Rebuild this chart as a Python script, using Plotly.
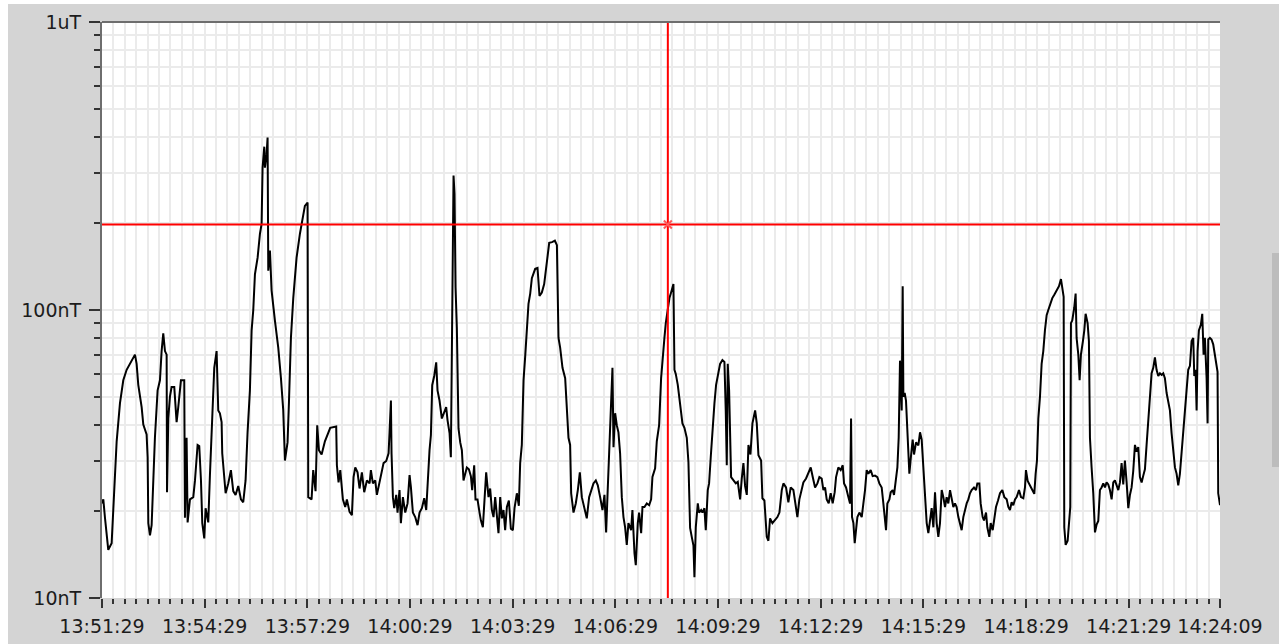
import pandas as pd
import plotly.graph_objects as go

# ---------------- data ----------------
BASE_DATE = "2000-01-01"
START_TIME = "13:51:29"
TICK_LABELS = ["13:51:29", "13:54:29", "13:57:29", "14:00:29", "14:03:29", "14:06:29",
               "14:09:29", "14:12:29", "14:15:29", "14:18:29", "14:21:29", "14:24:09"]
Y_TICK_VALUES = [10, 100, 1000]
Y_TICK_TEXT = ["10nT", "100nT", "1uT"]
Y_MINOR_VALUES = [20, 30, 40, 50, 60, 70, 80, 90, 200, 300, 400, 500, 600, 700, 800, 900]
CURSOR_TIME = "14:08:01"
CURSOR_VALUE_NT = 198

# seconds after 13:51:29
T_SEC = [
    0, 2.3, 5.2, 11.0, 16.9, 19.8, 22.7, 25.7, 31.5, 34.4, 37.3, 43.2, 49.0, 54.9, 57.8, 60.7,
    63.6, 69.5, 72.4, 78.2, 80.0, 81.2, 84.1, 87.0, 89.9, 92.8, 97.5, 101.6, 104.5, 107.4, 110.4,
    113.3, 114.0, 116.2, 119.1, 122.0, 126.7, 130.8, 133.7, 138.4, 144.2, 145.4, 148.3, 150.1,
    154.2, 160.0, 163.0, 167.6, 170.5, 173.5, 175.8, 179.3, 181.6, 186.3, 189.2, 193.3, 196.8,
    200.9, 203.8, 206.7, 209.7, 210.8, 214.3, 216.7, 221.4, 226.0, 230.1, 234.2, 238.9, 243.6,
    247.6, 251.7, 255.2, 259.3, 262.3, 265.2, 268.1, 272.8, 276.9, 279.8, 281.5, 284.5, 285.6,
    288.5, 290.3, 291.5, 294.4, 297.3, 303.1, 309.0, 313.7, 317.7, 320.7, 325.3, 327.7, 331.2,
    335.3, 341.1, 347.0, 351.1, 355.7, 360.4, 361.6, 367.4, 370.3, 374.4, 377.3, 380.3, 385.0,
    390.8, 396.6,
    400.1, 410.6, 411.8, 414.7, 417.7, 422.3, 426.4, 429.3, 434.0, 438.1,
    441.0, 444.0, 448.0, 451.5, 455.6, 459.7, 464.4, 469.1, 471.4, 474.9,
    479.0, 481.9, 484.8, 488.9, 493.6, 498.3, 502.4, 504.1, 506.5, 507.6,
    510.0, 512.3, 515.8, 518.1, 521.6, 524.0, 527.5, 531.6, 535.7, 539.2,
    541.5, 545.0, 549.1, 553.2, 556.7, 560.8, 564.9, 568.4, 570.7, 574.2,
    576.6, 578.9, 582.4, 585.9, 588.2, 591.7, 595.8, 599.9, 603.4, 605.8,
    609.3, 611.6, 614.0, 616.3, 618.0, 619.8, 622.1, 625.0, 628.0, 630.9,
    633.8, 637.3, 639.6, 643.2, 646.7, 649.0, 652.5, 654.8, 658.3, 661.9,
    664.2, 667.7, 670.0, 673.5, 677.6, 680.5, 683.5, 686.4, 689.3, 692.2,
    695.1, 698.1, 701.0, 703.9, 706.8, 709.8, 713.3, 716.8, 720.3, 723.2,
    727.3, 730.8, 733.1, 736.0, 739.0, 741.9, 744.8, 747.7, 750.7, 753.6,
    759.4, 763.5, 767.0, 771.1, 775.2, 779.9, 784.0,
    789.0, 794.0, 797.5,
    800.3, 803.2, 807.3, 812.0, 814.9, 817.8, 820.7, 822.5, 826.6, 830.6,
    834.2, 837.7, 841.2, 845.8, 849.9, 854.0, 857.5, 861.6, 865.7, 869.2,
    873.3, 877.4, 880.9, 883.8, 886.1, 889.6, 892.0, 894.9, 896.7, 899.6,
    902.5, 905.4, 908.3, 911.3, 914.2, 917.1, 920.0, 922.9, 927.6, 929.9,
    933.5, 935.8, 939.3, 941.6, 945.2, 947.5, 951.0, 955.1, 959.2, 962.7,
    965.0, 969.7, 972.6, 976.7, 980.2, 982.5, 986.0, 988.4, 991.9, 994.8,
    997.7, 1001.8, 1003.6, 1005.9, 1009.4, 1013.5, 1017.6, 1021.1, 1025.2, 1028.1,
    1031.0, 1033.9, 1036.9, 1038.6, 1041.0, 1044.5, 1046.8, 1050.3, 1052.6, 1056.1,
    1058.5, 1062.0, 1064.3, 1067.2, 1070.2, 1073.7, 1076.6, 1080.7, 1083.6, 1087.7,
    1091.2, 1093.5, 1095.3, 1097.0, 1099.4, 1102.9, 1107.0, 1111.1, 1114.6, 1118.7,
    1121.6, 1124.5, 1127.4, 1130.4, 1133.3, 1136.8, 1140.3, 1145.0, 1147.9, 1150.8,
    1155.5, 1157.8, 1161.3, 1165.4, 1168.3, 1171.2, 1175.3, 1180.0,
    1184.1, 1187.6, 1191.7, 1194.6, 1199.2, 1203.3, 1207.4, 1212.1, 1216.8, 1219.1,
    1222.6, 1226.7, 1229.6, 1234.3, 1238.3, 1242.5, 1246.0, 1250.1, 1254.2, 1257.7,
    1261.7, 1264.7, 1267.6, 1270.5, 1274.0, 1277.5, 1281.0, 1284.5, 1286.9, 1290.9,
    1295.0, 1298.6, 1300.9, 1304.4, 1308.5, 1311.4, 1313.2, 1314.9, 1317.3, 1319.6,
    1321.9, 1324.3, 1327.8, 1331.9, 1334.8, 1337.7, 1340.6, 1343.5, 1347.6, 1351.1,
    1355.2, 1359.3, 1362.8, 1366.9, 1369.8, 1372.7, 1374.5, 1376.8, 1380.4, 1382.7,
    1386.2, 1388.5, 1392.0, 1394.4, 1396.7, 1399.0, 1402.0, 1403.7, 1404.9, 1407.2,
    1409.5, 1411.9, 1413.6, 1415.4, 1417.7, 1421.2, 1423.6, 1427.1, 1431.2, 1434.1,
    1437.0, 1440.0, 1442.9, 1445.8, 1448.7, 1451.6, 1454.5, 1457.5, 1460.4, 1463.3,
    1466.2, 1469.1, 1472.1, 1475.0, 1477.9, 1480.8, 1483.7, 1486.7, 1489.6, 1492.5,
    1495.4, 1498.3, 1501.3, 1504.2, 1507.1, 1510.0, 1512.9, 1515.9, 1518.8, 1521.7,
    1524.6, 1528.7, 1532.2, 1534.6, 1538.1, 1540.4, 1543.9, 1546.3, 1549.8, 1552.1,
    1555.6, 1558.0, 1561.5, 1563.8, 1567.3, 1570.8, 1574.3,
    1578.4, 1581.9, 1586.0, 1588.9, 1591.8, 1594.7, 1597.6, 1600.6, 1603.5, 1607.6,
    1611.1, 1615.2, 1618.1, 1619.8, 1622.8, 1626.8, 1630.9, 1634.4, 1636.8, 1639.1,
    1641.5, 1644.4, 1647.3, 1650.2, 1653.1, 1656.1, 1659.0, 1661.9, 1666.0, 1669.5,
    1673.6, 1677.7, 1681.2, 1683.5, 1685.9, 1687.0, 1689.4, 1692.9, 1695.2, 1697.5,
    1698.7, 1701.0, 1704.5, 1706.9, 1708.6, 1711.6, 1713.9, 1716.2, 1719.7, 1722.1,
    1724.4, 1727.9, 1730.2, 1732.0, 1734.9, 1737.8, 1740.8, 1743.7, 1746.6, 1749.5,
    1752.4, 1755.4, 1758.3, 1761.2, 1764.1, 1767.0, 1770.0, 1772.9, 1775.8, 1778.7,
    1781.7, 1784.6, 1787.5, 1790.4, 1793.3, 1796.3, 1799.2, 1802.1, 1805.0, 1807.9,
    1810.9, 1813.8, 1816.7, 1819.6, 1822.6, 1825.5, 1828.4, 1831.3, 1834.2, 1837.2,
    1840.1, 1843.0, 1845.9, 1848.8, 1851.8, 1854.7, 1857.6, 1860.5, 1863.4, 1866.4,
    1869.3, 1872.2, 1875.1, 1878.1, 1881.0, 1883.9, 1886.8, 1889.7, 1892.7, 1895.6,
    1898.5, 1901.4, 1904.3, 1907.3, 1910.2, 1913.1, 1914.9, 1917.2, 1919.0, 1920.7,
    1923.0, 1926.5, 1928.9, 1931.2, 1933.5, 1936.5, 1938.2, 1939.4, 1942.3, 1945.2,
    1948.1, 1951.1, 1954.0, 1955.7, 1956.9, 1960.0,
]

# field in nT
B_NT = [
    21.3, 22, 19, 14.7, 15.5, 21, 26, 35, 47.5, 53, 57, 62, 65, 68, 70, 65,
    55, 46, 40, 37, 30.8, 18.2, 16.5, 17.9, 25.6, 36.1, 52.6, 57, 72, 83, 72,
    70, 23.3, 42, 50, 54, 54, 40.8, 46, 57, 57, 19, 36, 18.3,
    22, 22.4, 25.6, 34, 33.7, 25.6, 18.2, 16.1, 20.5, 18.3, 26.7, 40.8, 63,
    72, 44.8, 43.8, 40.8, 31.8, 26.3, 23.1, 25, 27.8, 23.5, 22.8, 24.5, 22,
    21.5, 25.6, 37.6, 52.6, 85, 100, 133, 152, 184, 199, 312, 369, 312,
    347, 397, 137, 161, 117, 92, 74, 58, 45, 30, 34.7, 47.5, 80,
    110, 152, 184, 207, 230, 236, 22.4, 22, 27.8, 23.5, 39.8, 32.6, 31.5,
    35, 37.6,
    39, 39.4, 28.9, 25.2, 27.8, 22, 20.7, 22, 19.9, 19.4,
    26.3, 28.4, 27.3, 24, 27.3, 23.3, 25.6, 25, 27.8, 25,
    25.6, 22.8, 24.3, 27.3, 29.4, 29.9, 31.8, 37.6, 48.5, 31.8,
    22.4, 20.5, 22.8, 19.8, 23.7, 18.2, 22.4, 19.8, 21.3, 26.7,
    24.3, 19.8, 19.1, 17.9, 19.8, 20.5, 22.2, 20.2, 25.2, 32.6,
    36.8, 54.8, 59, 65.8, 52.6, 48.5, 42, 43.8, 46, 41.4,
    37.4, 30.8, 117, 293, 253, 120, 87, 38.8, 34.7, 32.6,
    25.6, 27, 28.4, 28, 26.5, 23.7, 28.9, 22, 22, 19.8,
    18.6, 17.6, 21.5, 27.3, 22.4, 24, 20.2, 19.1, 22.4, 18.6,
    16.8, 22.4, 18.9, 20.2, 17.2, 20.7, 21.8, 17.4, 17.2, 20.5,
    23.1, 20.9, 29.4, 34, 57, 69, 90, 105, 114, 129,
    139, 140, 112, 115, 123, 149, 171,
    172, 174, 168,
    80, 74, 63, 58, 46, 36, 34, 23.1, 19.8, 21.3,
    23.7, 27.3, 22.4, 20.7, 18.9, 22.4, 23.7, 25, 25.6, 24.6,
    22.4, 20.2, 22.8, 16.9, 22.4, 33.9, 51.5, 63, 33.4, 43.8,
    39.8, 37.6, 31.8, 22.4, 19.1, 17.6, 15.3, 18.2, 17.2, 20.2,
    14.3, 13.0, 18.2, 19.8, 16.8, 20.7, 20.7, 21.3, 21, 22,
    26.3, 28.2, 35, 39.8, 58, 68, 80, 90, 100, 110,
    115, 123, 62, 60, 55, 47.5, 40.4, 39, 36, 29.6,
    17.5, 16.3, 15.2, 11.8, 17.6, 21.3, 19.8, 20.2, 19.8, 20.5,
    17.2, 23.7, 25, 30.8, 39, 47.5, 55, 60.3, 65, 67,
    66, 44.8, 28.9, 65, 52.6, 26.3, 25.6, 25, 25.3, 22,
    26, 29.4, 24.5, 22.8, 34, 31.5, 40.4, 44.8, 40.4, 31.3,
    30, 22.2, 21.8, 16.3, 15.8, 18.9, 18.2, 18.6,
    19.1, 19.8, 23.7, 25, 24.2, 21.5, 24.2, 23.7, 20.5, 19.1,
    22, 23.7, 25.2, 26, 27, 28.4, 26.3, 24.2, 25, 26.3,
    26, 23.7, 24.2, 22, 21.3, 23.1, 21.3, 23.3, 26.3, 28.4,
    27.8, 28.9, 25, 24.2, 22.4, 21.3, 42, 19.1, 18.2, 15.5,
    17.2, 19.1, 19.8, 19.1, 21.3, 23.7, 27.8, 27, 27.8, 26.5,
    26.6, 26.3, 25, 24.2, 21.3, 19.1, 17.2, 21.3, 22, 23.3,
    23.7, 22.8, 26.3, 28.4, 36, 66.7, 44.8, 121, 50, 51.5,
    48.5, 37.4, 29.4, 27, 30.3, 35.5, 31.5, 34.7, 33.9, 37.6,
    35.5, 27.8, 22.4, 18.2, 16.8, 19.1, 20.5, 17.6, 23.3, 18.2,
    16.3, 18.2, 23.7, 22.4, 20.7, 22.4, 21.3, 23.7, 22, 20.7,
    21.3, 20.7, 19.1, 18.2, 17.2, 19.1, 20.2, 21.3, 22, 23.1,
    23.7, 24.2, 23.7, 25, 25, 21.3, 19.1, 18.6, 19.8, 17.6,
    16.3, 18.2, 17.2, 18.9, 20.7, 21.8, 23.1,
    23.7, 22.4, 22, 20.7, 20.2, 21.5, 21, 22, 22.4, 23.7,
    22.4, 22.2, 24.2, 27.8, 25.5, 24.6, 23.7, 23, 27, 30,
    42, 50, 65, 72, 85, 96, 100, 105, 110, 113,
    117, 121, 128, 121, 111, 17.6, 15.3, 15.8, 17.6, 20.7,
    90, 92, 102, 114, 80, 70, 57, 70, 78, 85,
    97, 90, 78, 36, 28.4, 23.1, 16.9, 18, 18.5, 23.7,
    24.2, 25, 24.2, 25.2, 24.8, 23.7, 22, 25.2, 25.6, 24.8,
    23.7, 25.2, 29.4, 24.8, 30, 25.2, 20.5, 22.8, 24.2, 27.6,
    34, 32.2, 33.4, 26.3, 25.2, 26.6, 28, 34, 41.4, 48.5,
    60.3, 63, 68.5, 62, 59, 60.3, 59.5, 60.3, 58, 51.5,
    47.5, 44.8, 37.4, 32.6, 28.4, 27, 24.6, 27, 31.5, 37.4,
    44.8, 52.6, 62, 64, 78, 80, 59, 62, 44.8, 72,
    85, 89, 97, 70, 80, 58, 40.4, 79, 80, 79,
    76, 70, 63, 61, 23.1, 21,
]

# ---------------- build ----------------
n = min(len(T_SEC), len(B_NT))
start = pd.Timestamp(f"{BASE_DATE} {START_TIME}")
times = start + pd.to_timedelta(T_SEC[:n], unit="s")
values = B_NT[:n]
tick_vals = [pd.Timestamp(f"{BASE_DATE} {s}") for s in TICK_LABELS]
x_end = tick_vals[-1]
cursor_t = pd.Timestamp(f"{BASE_DATE} {CURSOR_TIME}")

W, H = 1283, 644
ML, MR, MT, MB = 102, 63, 22, 46
PW, PH = W - ML - MR, H - MT - MB


def px(xpix):
    return (xpix - ML) / PW


def py(ypix):
    return (H - MB - ypix) / PH


PANEL = "#d4d4d4"
GRID = "#ebebeb"
AXIS = "#6e6e6e"
TICKC = "#333333"
FONT = dict(family="DejaVu Sans", size=19, color="#1c1c1c")

fig = go.Figure()
fig.add_trace(go.Scatter(x=times, y=values, mode="lines",
                         line=dict(color="black", width=2), hoverinfo="skip"))
# cursor cross-hair
fig.add_trace(go.Scatter(x=[start, x_end], y=[CURSOR_VALUE_NT, CURSOR_VALUE_NT], mode="lines",
                         line=dict(color="#ff0000", width=2), hoverinfo="skip"))
fig.add_trace(go.Scatter(x=[cursor_t, cursor_t], y=[10, 1000], mode="lines",
                         line=dict(color="#ff0000", width=2), hoverinfo="skip"))
fig.add_trace(go.Scatter(x=[cursor_t], y=[CURSOR_VALUE_NT], mode="markers",
                         marker=dict(symbol="x-thin", size=8,
                                     line=dict(color="#ff5a5a", width=2)),
                         hoverinfo="skip"))

shapes = [
    # top frame line
    dict(type="line", xref="paper", yref="paper", x0=0, x1=1, y0=1, y1=1,
         line=dict(color=AXIS, width=2)),
    # white window strips
    dict(type="rect", xref="paper", yref="paper", x0=px(0), x1=px(8), y0=py(H), y1=py(0),
         fillcolor="white", line=dict(width=0)),
    dict(type="rect", xref="paper", yref="paper", x0=px(0), x1=px(W), y0=py(4), y1=py(0),
         fillcolor="white", line=dict(width=0)),
    dict(type="rect", xref="paper", yref="paper", x0=px(1279), x1=px(W), y0=py(H), y1=py(0),
         fillcolor="white", line=dict(width=0)),
    # scroll bar
    dict(type="rect", xref="paper", yref="paper", x0=px(1272), x1=px(1279), y0=py(467), y1=py(253),
         fillcolor="#bcbcbc", line=dict(width=0)),
]

fig.update_layout(
    width=W, height=H,
    margin=dict(l=ML, r=MR, t=MT, b=MB, pad=0, autoexpand=False),
    paper_bgcolor=PANEL, plot_bgcolor="white",
    showlegend=False, font=FONT, shapes=shapes,
    xaxis=dict(
        type="date", range=[start, x_end], automargin=False,
        tickmode="array", tickvals=tick_vals, ticktext=TICK_LABELS,
        ticks="outside", ticklen=9, tickwidth=2, tickcolor=TICKC,
        showgrid=True, gridcolor=GRID, gridwidth=2,
        showline=False, zeroline=False, ticklabelstandoff=2,
        tickfont=FONT,
        minor=dict(ticks="outside", ticklen=5, tickwidth=2, tickcolor=TICKC,
                   tick0=start, dtick=20000, showgrid=True, gridcolor=GRID, gridwidth=2),
    ),
    yaxis=dict(
        type="log", range=[1, 3], automargin=False,
        tickmode="array", tickvals=Y_TICK_VALUES, ticktext=Y_TICK_TEXT,
        ticks="outside", ticklen=11, tickwidth=2, tickcolor=TICKC,
        showgrid=True, gridcolor=GRID, gridwidth=2,
        showline=True, linecolor=AXIS, linewidth=2, zeroline=False,
        ticklabelstandoff=4, tickfont=FONT,
        minor=dict(ticks="outside", ticklen=6, tickwidth=2, tickcolor=TICKC,
                   tickmode="array", tickvals=Y_MINOR_VALUES,
                   showgrid=True, gridcolor=GRID, gridwidth=2),
    ),
)

fig.write_html("out.html", config={"displayModeBar": False})
